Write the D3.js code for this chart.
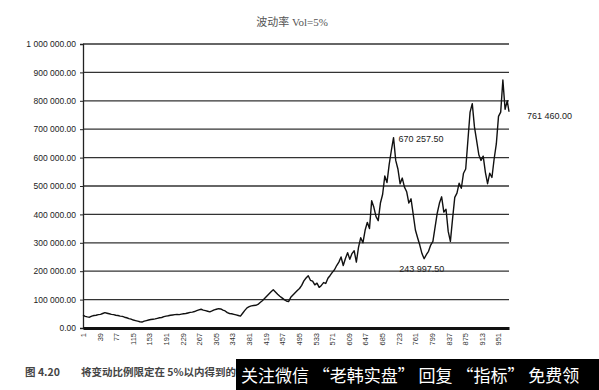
<!DOCTYPE html>
<html>
<head>
<meta charset="utf-8">
<script src="https://cdn.jsdelivr.net/npm/d3@7"></script>
<style>
  body { margin: 0; background: #fff; }
  svg text { font-family: "Liberation Sans", Arial, sans-serif; }
</style>
</head>
<body>
<script>
// value in thousands, one reading every 5 days (day 1, 6, 11 ...), last one is day 975
var values = [
  45, 41, 39, 38, 42, 44, 45, 47, 48, 51, 54, 52, 50, 48, 47, 45, 44, 42, 41, 38,
  36, 33, 31, 28, 26, 24, 22, 21, 24, 26, 28, 30, 31, 32, 34, 36, 37, 40, 42, 43,
  45, 46, 47, 48, 47, 49, 50, 51, 53, 55, 56, 58, 61, 64, 66, 63, 61, 59, 57, 60,
  64, 66, 68, 67, 63, 60, 54, 51, 50, 48, 46, 44, 42, 52, 62, 71, 75, 78, 79, 80,
  83, 90, 96, 104, 112, 120, 128, 135, 127, 119, 112, 106, 100, 95, 93, 108, 116, 124, 132, 139,
  150, 166, 176, 184, 168, 165, 152, 158, 143, 150, 160, 157, 175, 185, 196, 205, 220, 232, 250, 220,
  245, 265, 242, 262, 272, 232, 285, 318, 300, 344, 372, 350, 448, 425, 392, 378, 440, 470, 535, 512,
  575, 625, 670.2575, 590, 560, 508, 528, 496, 480, 440, 455, 400, 345, 318, 292, 262, 243.9975, 258, 270, 292,
  305, 355, 405, 440, 462, 408, 418, 340, 305, 385, 460, 475, 510, 492, 545, 560, 660, 760, 790, 708,
  660, 610, 590, 605, 548, 508, 545, 530, 595, 648, 745, 760, 873, 770, 800, 761.46
];
var days = values.map(function (v, i) { return i < values.length - 1 ? 1 + i * 5 : 975; });

var yTicks = [0, 100000, 200000, 300000, 400000, 500000, 600000, 700000, 800000, 900000, 1000000];
var xTicks = [1, 39, 77, 115, 153, 191, 229, 267, 305, 343, 381, 419, 457, 495, 533, 571, 609, 647, 685, 723, 761, 799, 837, 875, 913, 951];

var labels = [
  { day: 711, value: 670257.5, text: '670 257.50', dx: 5, dy: 4 },
  { day: 781, value: 243997.5, text: '243 997.50', dx: -25, dy: 13 },
  { day: 975, value: 761460, text: '761 460.00', dx: 18, dy: 7 }
];

var width = 599, height = 390;
var svg = d3.select('body').append('svg').attr('width', width).attr('height', height);

var x = d3.scaleLinear().domain([1, 975]).range([83, 509]);
var y = d3.scaleLinear().domain([0, 1000000]).range([328, 44]);

var numFmt = function (v) { return d3.format(',.2f')(v).replace(/,/g, ' '); };

// title
svg.append('text')
  .attr('x', 292).attr('y', 26)
  .attr('text-anchor', 'middle')
  .style('font-family', '"Liberation Serif", "Noto Sans CJK SC", serif')
  .style('font-size', '11px')
  .attr('fill', '#555')
  .text('波动率 Vol=5%');

// grid lines
svg.append('g').selectAll('line')
  .data(yTicks.slice(1))
  .enter().append('line')
  .attr('x1', 83).attr('x2', 509)
  .attr('y1', function (d) { return y(d); })
  .attr('y2', function (d) { return y(d); })
  .attr('stroke', '#333')
  .attr('stroke-width', 1.3);

// y axis
var yAxis = svg.append('g')
  .attr('transform', 'translate(83,0)')
  .call(d3.axisLeft(y).tickValues(yTicks).tickFormat(numFmt).tickSize(3).tickPadding(4));
yAxis.select('.domain').attr('stroke', '#222').attr('stroke-width', 1.3);
yAxis.selectAll('.tick line').attr('stroke', '#222');
yAxis.selectAll('text').style('font-size', '8.5px').attr('fill', '#222');

// x axis
var xAxis = svg.append('g')
  .attr('transform', 'translate(0,328)')
  .call(d3.axisBottom(x).tickValues(xTicks).tickSize(0).tickPadding(0));
xAxis.select('.domain').attr('stroke', '#111').attr('stroke-width', 3);
xAxis.selectAll('text')
  .style('font-size', '7.5px')
  .attr('fill', '#333')
  .attr('text-anchor', 'end')
  .attr('transform', 'rotate(-90)')
  .attr('x', -5).attr('y', 0).attr('dy', '0.32em');

// series
var line = d3.line()
  .x(function (d, i) { return x(days[i]); })
  .y(function (d) { return y(d * 1000); });

svg.append('path')
  .datum(values)
  .attr('fill', 'none')
  .attr('stroke', '#111')
  .attr('stroke-width', 1.4)
  .attr('stroke-linejoin', 'round')
  .attr('d', line);

// value labels
svg.append('g').selectAll('text')
  .data(labels)
  .enter().append('text')
  .attr('x', function (d) { return x(d.day) + d.dx; })
  .attr('y', function (d) { return y(d.value) + d.dy; })
  .style('font-size', '9px')
  .attr('fill', '#222')
  .text(function (d) { return d.text; });

// caption
svg.append('text')
  .attr('x', 25).attr('y', 376)
  .style('font-family', '"Noto Sans CJK SC", sans-serif')
  .style('font-size', '10.5px')
  .style('font-weight', 'bold')
  .attr('fill', '#444')
  .text('图 4.20\u2003\u2003将变动比例限定在 5%以内得到的结果');

// watermark bar
svg.append('rect')
  .attr('x', 236).attr('y', 359)
  .attr('width', 363).attr('height', 31)
  .attr('fill', '#000');
svg.append('text')
  .attr('x', 241).attr('y', 382)
  .style('font-family', '"Noto Sans CJK SC", sans-serif')
  .style('font-size', '17px')
  .attr('fill', '#fff')
  .text('关注微信 “老韩实盘” 回复 “指标” 免费领');
</script>
</body>
</html>
